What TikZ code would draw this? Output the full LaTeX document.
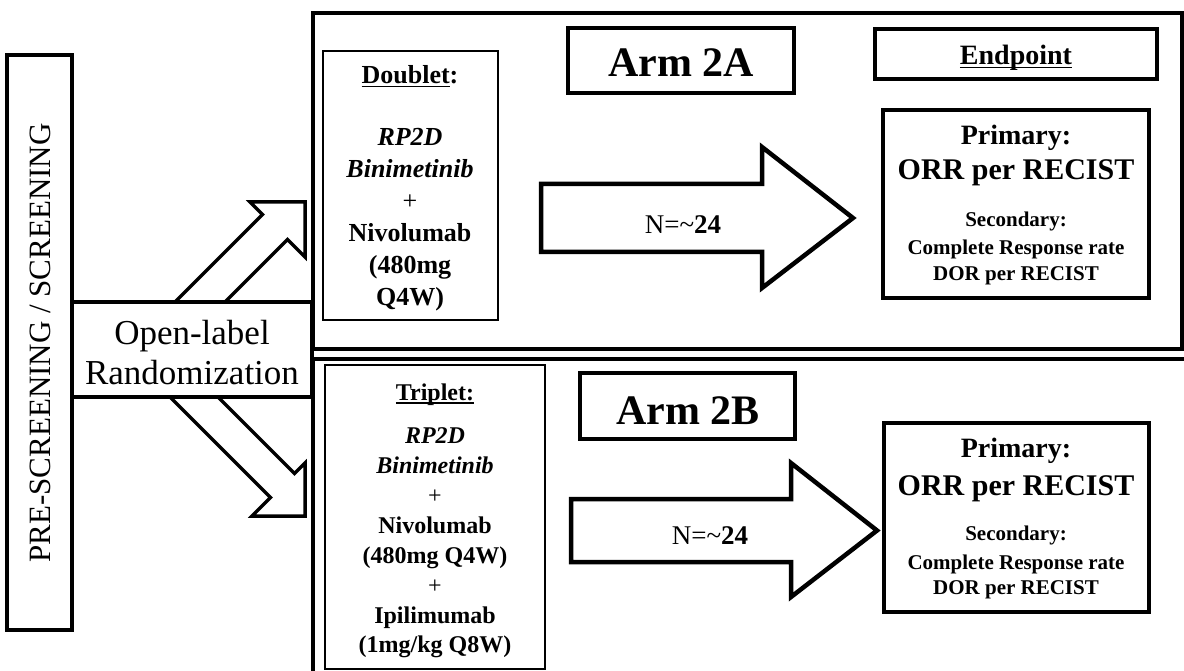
\documentclass[tikz,border=0pt]{standalone}
\usepackage{fontspec}
\setmainfont{Liberation Serif}
% underline at a fixed distance below the baseline
\newcommand{\uln}[1]{\setbox0\hbox{#1}\rlap{\rule[-0.15em]{\wd0}{0.07em}}\box0}
\newcommand{\fs}[1]{\fontsize{#1}{#1}\selectfont}
\begin{document}
\begin{tikzpicture}[x=1pt,y=-1pt,
  box/.style={draw, fill=white, inner sep=0pt},
  heavybox/.style={box, line width=4.5pt},
  framebox/.style={box, line width=3.5pt},
  thinbox/.style={box, line width=1.5pt},
  blockarrow/.style={draw, fill=white, line width=4.5pt, line join=miter},
  diagarrow/.style={draw, fill=white, line width=3.5pt, line join=miter},
  txt/.style={anchor=base, inner sep=0pt},
  drug/.style={txt, font=\fs{26}},
  drugs/.style={txt, font=\fs{24}},
  armtxt/.style={txt, font=\fs{42}\bfseries},
  ntxt/.style={txt, font=\fs{27}},
  prim/.style={txt, font=\fs{28}\bfseries},
  orr/.style={txt, font=\fs{30}\bfseries},
  sec/.style={txt, font=\fs{21}\bfseries}]
\useasboundingbox[fill=white] (0,0) rectangle (1184,671);
\clip (0,0) rectangle (1184,671);

% two arm panels
\node[heavybox, minimum width=869.5pt, minimum height=336pt] (panelA) at (747.75,181) {};
\node[heavybox, minimum width=882pt, minimum height=341pt] (panelB) at (754,529.5) {};

% screening column
\node[box, line width=4pt, minimum width=65pt, minimum height=575pt] (pre) at (39.5,342.5) {};
\node[txt, font=\fs{31}, rotate=90] (pretxt) at (50,343) {PRE-SCREENING / SCREENING};

% randomization arrows
\draw[diagarrow] (175,302) -- (262.5,214.5) -- (250,202) -- (305,202) -- (305,257)
  -- (287.5,239.5) -- (225,302);
\draw[diagarrow] (170,397) -- (270.5,497.5) -- (252,516) -- (305,516) -- (305,463)
  -- (294.5,473.5) -- (218,397);

\node[framebox, minimum width=240pt, minimum height=95pt] (rand) at (192,349.5) {};
\node[txt, font=\fs{35}] (rand1) at (192,344.5) {Open-label};
\node[txt, font=\fs{35}] (rand2) at (192,384.5) {Randomization};

% Arm 2A
\node[thinbox, minimum width=175pt, minimum height=269pt] (doublet) at (410.5,185.5) {};
\node[drug] (d0) at (410,83.6) {\bfseries\uln{Doublet}:};
\node[drug, font=\fs{26}\itshape\bfseries] (d1) at (410,145.6) {RP2D};
\node[drug, font=\fs{26}\itshape\bfseries] (d2) at (410,177.6) {Binimetinib};
\node[drug] (d3) at (410,209.6) {+};
\node[drug, font=\fs{26}\bfseries] (d4) at (410,241.6) {Nivolumab};
\node[drug, font=\fs{26}\bfseries] (d5) at (410,273.6) {(480mg};
\node[drug, font=\fs{26}\bfseries] (d6) at (410,305.6) {Q4W)};

\node[heavybox, minimum width=226pt, minimum height=65pt] (armA) at (681,60.5) {};
\node[armtxt] (armAt) at (681,77) {Arm 2A};

\draw[blockarrow] (541,184) -- (762,184) -- (762,147) -- (853,218) -- (762,288)
  -- (762,252) -- (541,252) -- cycle;
\node[ntxt] (nA) at (683,234) {N=\char`\~\textbf{24}};

\node[heavybox, line width=4pt, minimum width=282pt, minimum height=50pt] (endp) at (1016,54) {};
\node[prim] (endpt) at (1016,64.3) {\uln{Endpoint}};

\node[framebox, minimum width=266pt, minimum height=188pt] (primA) at (1016,204) {};
\node[prim] (pA1) at (1016,144.3) {Primary:};
\node[orr] (pA2) at (1016,180) {ORR per RECIST};
\node[sec] (pA3) at (1016,227) {Secondary:};
\node[sec] (pA4) at (1016,255) {Complete Response rate};
\node[sec] (pA5) at (1016,280) {DOR per RECIST};

% Arm 2B
\node[thinbox, minimum width=220pt, minimum height=304pt] (triplet) at (435,517) {};
\node[drugs, font=\fs{24}\bfseries] (t0) at (435,400) {\uln{Triplet:}};
\node[drugs, font=\fs{24}\itshape\bfseries] (t1) at (435,443) {RP2D};
\node[drugs, font=\fs{24}\itshape\bfseries] (t2) at (435,473) {Binimetinib};
\node[drugs] (t3) at (435,503) {+};
\node[drugs, font=\fs{24}\bfseries] (t4) at (435,533) {Nivolumab};
\node[drugs, font=\fs{24}\bfseries] (t5) at (435,563) {(480mg Q4W)};
\node[drugs] (t6) at (435,593) {+};
\node[drugs, font=\fs{24}\bfseries] (t7) at (435,623) {Ipilimumab};
\node[drugs, font=\fs{24}\bfseries] (t8) at (435,652) {(1mg/kg Q8W)};

\node[heavybox, minimum width=215pt, minimum height=66pt] (armB) at (687.5,406) {};
\node[armtxt] (armBt) at (688,424) {Arm 2B};

\draw[blockarrow] (571,499) -- (791,499) -- (791,463) -- (877,530.5) -- (791,597)
  -- (791,562) -- (571,562) -- cycle;
\node[ntxt] (nB) at (710,544) {N=\char`\~\textbf{24}};

\node[framebox, minimum width=265pt, minimum height=189pt] (primB) at (1016.5,517.5) {};
\node[prim] (pB1) at (1016,457.3) {Primary:};
\node[orr] (pB2) at (1016,495) {ORR per RECIST};
\node[sec] (pB3) at (1016,540) {Secondary:};
\node[sec] (pB4) at (1016,569) {Complete Response rate};
\node[sec] (pB5) at (1016,594) {DOR per RECIST};
\end{tikzpicture}
\end{document}
